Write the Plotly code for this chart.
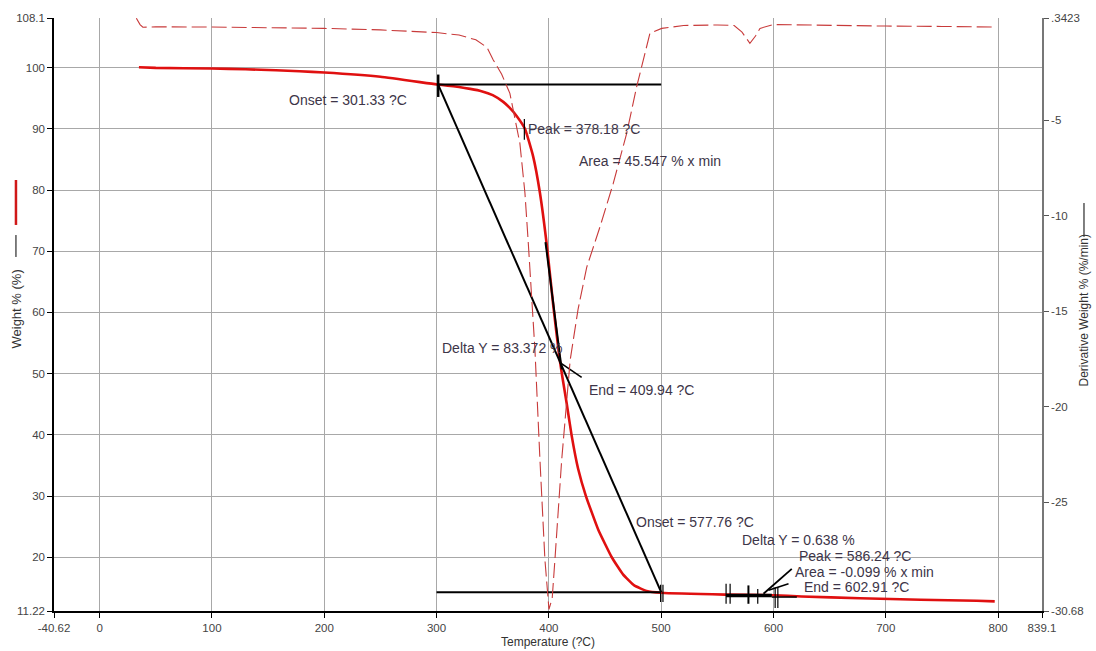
import plotly.graph_objects as go

# ---------------- data ----------------
temp_w = [35, 50, 100, 130, 157, 178, 200, 250, 300, 310, 320, 330, 340, 350, 359.4, 365, 371.3,
          378.7, 386, 392, 398.5, 404, 409.5, 412, 416, 420.2, 426, 433, 444, 456, 466, 476,
          487, 500, 557, 600, 625, 677, 731, 781, 797]
weight = [100.05, 99.95, 99.85, 99.73, 99.56, 99.4, 99.2, 98.5, 97.25, 97.05, 96.82, 96.52,
          96.15, 95.5, 94.4, 93.45, 92.1, 90.0, 85.5, 79.6, 70.5, 61.0, 52.5, 49.5, 45.0, 40.0,
          34.5, 30.0, 24.5, 20.0, 17.2, 15.4, 14.5, 14.2, 13.9, 13.8, 13.6, 13.3, 13.05, 12.9,
          12.8]

temp_d = [32.7, 36, 38.5, 50, 100, 150, 200, 250, 300, 320, 335, 345, 350.5, 358, 365.3, 374.2,
          378.7, 381.7, 384.7, 387.6, 392.1, 396.5, 400.1, 403, 405.4, 411.4, 419, 426, 433.7,
          445.6, 457.4, 469.3, 478.2, 484.1, 490, 500.5, 520, 550, 565, 572, 579, 584, 588,
          600, 650, 700, 750, 797]
deriv = [0.33, 0.0, -0.14, -0.12, -0.13, -0.15, -0.2, -0.28, -0.42, -0.55, -0.8, -1.2, -1.85,
         -2.6, -3.6, -6.21, -8.81, -11.44, -14.04, -17.0, -22.8, -28.0, -30.6, -30.0, -28.0,
         -22.8, -17.55, -14.9, -12.7, -10.57, -8.3, -5.69, -3.25, -1.85, -0.46, -0.2, -0.05,
         -0.02, -0.05, -0.4, -0.98, -0.6, -0.2, 0.0, -0.05, -0.08, -0.1, -0.13]

x_tickvals = [-40.62, 0, 100, 200, 300, 400, 500, 600, 700, 800, 839.1]
x_ticktext = ["-40.62", "0", "100", "200", "300", "400", "500", "600", "700", "800", "839.1"]
y_tickvals = [11.22, 20, 30, 40, 50, 60, 70, 80, 90, 100, 108.1]
y_ticktext = ["11.22", "20", "30", "40", "50", "60", "70", "80", "90", "100", "108.1"]
y2_tickvals = [-30.68, -25, -20, -15, -10, -5, 0.3423]
y2_ticktext = ["-30.68", "-25", "-20", "-15", "-10", "-5", ".3423"]

# analysis construction lines (temperature, weight) pairs
analysis_lines = [
    # (T list, W list, width)
    ([300, 500], [97.25, 97.25], 2.0),          # upper baseline step 1
    ([301.33, 500], [97.25, 14.3], 2.0),        # onset tangent step 1
    ([397, 411.4], [71.5, 50.7], 2.0),          # peak tangent
    ([410, 429.2], [51.8, 49.4], 1.6),          # end tangent
    ([300, 500], [14.3, 14.3], 2.0),            # lower baseline step 1
    ([301.5, 301.5], [98.86, 95.2], 2.4),       # onset tick
    ([378.18, 378.18], [91.6, 88.2], 1.2),      # peak tick
    ([499.5, 499.5], [15.5, 12.7], 1.2),        # end ticks
    ([501.6, 501.6], [15.5, 12.7], 1.2),
    ([557.8, 557.8], [15.66, 12.4], 1.2),       # step 2 ticks
    ([561.4, 561.4], [15.66, 12.4], 1.2),
    ([557.8, 598.5], [13.76, 13.76], 3.5),
    ([598.5, 620.8], [13.5, 13.5], 1.5),
    ([577.7, 577.7], [15.4, 12.4], 2.0),
    ([586.0, 586.0], [14.8, 12.4], 1.2),
    ([601.5, 601.5], [15.1, 11.7], 1.2),
    ([603.9, 603.9], [15.1, 11.7], 1.2),
    ([591.1, 616.3], [14.03, 18.1], 1.8),
    ([595.6, 613.4], [14.6, 15.66], 1.5),
]

labels = ["Onset = 301.33 ?C", "Peak = 378.18 ?C", "Area = 45.547 % x min",
          "Delta Y = 83.372 %", "End = 409.94 ?C", "Onset = 577.76 ?C",
          "Delta Y = 0.638 %", "Peak = 586.24 ?C", "Area = -0.099 % x min",
          "End = 602.91 ?C"]
label_x = [166.6, 379.6, 425.1, 303.0, 434.0, 475.8, 570.3, 621.1, 617.5, 625.5]
label_y = [94.78, 89.9, 84.8, 54.2, 47.3, 25.8, 22.9, 20.2, 17.6, 15.2]

FONT = "Liberation Sans, Arial, sans-serif"
TXT = "#3d3548"

fig = go.Figure()

fig.add_trace(go.Scatter(x=temp_d, y=deriv, yaxis="y2", mode="lines",
                         line=dict(color="#c83a3a", width=1.1, dash="15px,5px"),
                         hoverinfo="skip"))
fig.add_trace(go.Scatter(x=temp_w, y=weight, mode="lines",
                         line=dict(color="#e01010", width=2.6, shape="spline", smoothing=0.4),
                         hoverinfo="skip"))
for xs, ys, w in analysis_lines:
    fig.add_trace(go.Scatter(x=xs, y=ys, mode="lines",
                             line=dict(color="black", width=w), hoverinfo="skip"))

annotations = []
for t, x, y in zip(labels, label_x, label_y):
    annotations.append(dict(x=x, y=y, xref="x", yref="y", text=t, showarrow=False,
                            xanchor="left", yanchor="middle",
                            font=dict(family=FONT, size=14, color=TXT)))

# axis titles
annotations.append(dict(x=0.5, y=-0.0523, xref="paper", yref="paper", text="Temperature (?C)",
                        showarrow=False, xanchor="center", yanchor="middle",
                        font=dict(family=FONT, size=12, color="#333")))
annotations.append(dict(x=-0.0375, y=0.51, xref="paper", yref="paper", text="Weight % (%)",
                        showarrow=False, textangle=-90, xanchor="center", yanchor="middle",
                        font=dict(family=FONT, size=13, color="#333")))
annotations.append(dict(x=1.0425, y=0.5067, xref="paper", yref="paper",
                        text="Derivative Weight % (%/min)",
                        showarrow=False, textangle=-90, xanchor="center", yanchor="middle",
                        font=dict(family=FONT, size=12, color="#333")))

shapes = [
    dict(type="line", xref="paper", yref="paper", x0=-0.0385, x1=-0.0385, y0=0.7268, y1=0.651,
         line=dict(color="#d01818", width=2.5)),
    dict(type="line", xref="paper", yref="paper", x0=-0.0385, x1=-0.0385, y0=0.634, y1=0.597,
         line=dict(color="black", width=1)),
    dict(type="line", xref="paper", yref="paper", x0=1.0425, x1=1.0425, y0=0.688, y1=0.631,
         line=dict(color="black", width=1)),
]

fig.update_layout(
    width=1096, height=651,
    margin=dict(l=54, r=54, t=18, b=40),
    paper_bgcolor="white", plot_bgcolor="white",
    showlegend=False,
    font=dict(family=FONT, size=11.5, color="#444"),
    annotations=annotations,
    shapes=shapes,
    xaxis=dict(range=[-40.62, 839.1], tickmode="array", tickvals=x_tickvals,
               ticktext=x_ticktext, showgrid=True, gridcolor="#a8a8a8", gridwidth=1,
               showline=True, linecolor="black", linewidth=1.5, ticks="outside",
               ticklen=5, tickcolor="black", zeroline=False,
               tickfont=dict(family=FONT, size=11.5, color="#444")),
    yaxis=dict(range=[11.22, 108.1], tickmode="array", tickvals=y_tickvals,
               ticktext=y_ticktext, showgrid=True, gridcolor="#a8a8a8", gridwidth=1,
               showline=True, linecolor="black", linewidth=1.5, ticks="outside",
               ticklen=5, tickcolor="black", zeroline=False,
               tickfont=dict(family=FONT, size=11.5, color="#444")),
    yaxis2=dict(range=[-30.68, 0.3423], overlaying="y", side="right", tickmode="array",
                tickvals=y2_tickvals, ticktext=y2_ticktext, showgrid=False,
                showline=True, linecolor="#777", linewidth=1.5, ticks="outside",
                ticklen=5, tickcolor="#555", zeroline=False,
                tickfont=dict(family=FONT, size=11.5, color="#444")),
)

fig.write_html("out.html")
